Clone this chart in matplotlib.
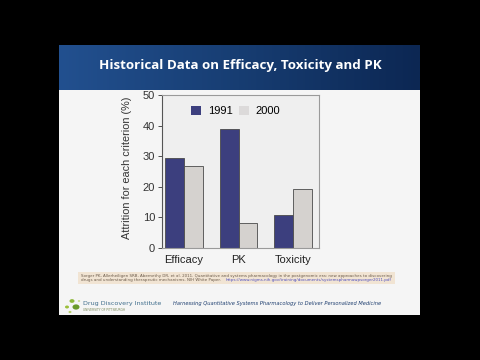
import numpy as np
import matplotlib
matplotlib.use('Agg')
import matplotlib.pyplot as plt
from matplotlib.patches import Rectangle, Circle
from matplotlib.colors import LinearSegmentedColormap

categories = ["Efficacy", "PK", "Toxicity"]
years = ["1991", "2000"]
attrition_1991 = [29.5, 39.0, 10.8]
attrition_2000 = [26.8, 8.2, 19.3]
yticks = [0, 10, 20, 30, 40, 50]

title = "Historical Data on Efficacy, Toxicity and PK"
citation_1 = ("Sorger PK, Allerheiligen SRB, Abernethy DR, et al. 2011. Quantitative and systems pharmacology "
              "in the postgenomic era: new approaches to discovering")
citation_2 = "drugs and understanding therapeutic mechanisms. NIH White Paper."
link = "https://www.nigms.nih.gov/training/documents/systemspharmawpsorger2011.pdf"
tagline = "Harnessing Quantitative Systems Pharmacology to Deliver Personalized Medicine"

W, H = 480, 360


def fx(x):
    return x / W


def fy(y):
    return 1 - y / H


plt.rcParams['font.family'] = ['Liberation Sans', 'DejaVu Sans']

fig = plt.figure(figsize=(4.8, 3.6), dpi=100)
fig.patch.set_facecolor("black")

# slide body
fig.patches.append(Rectangle((fx(59), fy(315)), fx(420) - fx(59), fy(45) - fy(315),
                             transform=fig.transFigure, facecolor="#f5f5f5", edgecolor="none", zorder=0))

# title banner with gradient
bax = fig.add_axes([fx(59), fy(90), fx(420) - fx(59), fy(45) - fy(90)])
bax.set_zorder(5)
grad = np.linspace(0, 1, 256).reshape(1, -1)
cmap = LinearSegmentedColormap.from_list("banner", ["#22508f", "#173d72", "#0c2753"])
bax.imshow(grad, aspect="auto", cmap=cmap, extent=[0, 1, 0, 1])
bax.set_axis_off()
fig.text(fx(240), fy(66), title, color="white", fontsize=9.6, fontweight="bold",
         ha="center", va="center", family="Open Sans", zorder=6)

# chart
ax = fig.add_axes([fx(162), fy(248), fx(319) - fx(162), fy(95) - fy(248)])
ax.set_zorder(5)
ax.set_facecolor("#efefef")
x = np.arange(len(categories))
w = 0.345
ax.bar(x - w / 2, attrition_1991, w, color="#3c3f7e", edgecolor="#4a4a4a", linewidth=0.6, label=years[0])
ax.bar(x + w / 2, attrition_2000, w, color="#d5d2cf", edgecolor="#4a4a4a", linewidth=0.6, label=years[1])
ax.set_xlim(-0.4, 2.47)
ax.set_ylim(0, 50)
ax.set_yticks(yticks)
ax.set_xticks(x)
ax.set_xticklabels(categories)
ax.tick_params(axis="y", direction="out", length=3, width=0.6, colors="#333333", labelsize=8, pad=2)
ax.tick_params(axis="x", length=0, labelsize=8, pad=5, colors="#222222")
for s in ax.spines.values():
    s.set_color("#9a9a9a")
    s.set_linewidth(0.8)
ax.spines["left"].set_color("#555555")
leg = ax.legend(loc="upper center", ncol=2, frameon=False, fontsize=8, handlelength=0.9, handleheight=0.9,
                columnspacing=0.6, handletextpad=0.6, bbox_to_anchor=(0.47, 0.995))
for h in leg.legend_handles:
    h.set_edgecolor("none")
leg.legend_handles[1].set_facecolor("#dcdada")
fig.text(fx(127), fy(168), "Attrition for each criterion (%)", rotation=90, fontsize=7.8,
         color="#333333", ha="center", va="center")

# citation box
fig.patches.append(Rectangle((fx(78), fy(284)), fx(395) - fx(78), fy(272) - fy(284),
                             transform=fig.transFigure, facecolor="#f1e4d3", edgecolor="none", zorder=1))
fig.text(fx(81), fy(275.5), citation_1, fontsize=2.85, color="#6a5a4a", ha="left", va="center",
         family="DejaVu Sans")
fig.text(fx(81), fy(280.5), citation_2, fontsize=2.85, color="#6a5a4a", ha="left", va="center",
         family="DejaVu Sans")
fig.text(fx(226), fy(280.5), link, fontsize=2.85, color="#5050c0", ha="left", va="center", family="DejaVu Sans")

# footer logo
for (cx, cy, r, c) in [(67, 307, 2.0, "#9bbf3a"), (72, 301, 2.5, "#8db83a"), (76, 307, 3.5, "#6a9a2a"),
                       (70, 312, 1.5, "#b6cf6a"), (79, 301, 1.2, "#c7d98a")]:
    fig.patches.append(Circle((fx(cx), fy(cy)), r / W, transform=fig.transFigure,
                              facecolor=c, edgecolor="none", zorder=2))
fig.text(fx(83), fy(303), "Drug Discovery Institute", fontsize=4.6, color="#3f6d8c", ha="left",
         va="center", family="DejaVu Sans")
fig.text(fx(83), fy(310), "UNIVERSITY OF PITTSBURGH", fontsize=2.2, color="#7a8a5a", ha="left",
         va="center", family="DejaVu Sans")
fig.text(fx(173), fy(304), tagline, fontsize=3.7, style="italic", color="#1f3f70", ha="left",
         va="center", family="DejaVu Sans")

fig.savefig("out.png", dpi=100, facecolor=fig.get_facecolor())
